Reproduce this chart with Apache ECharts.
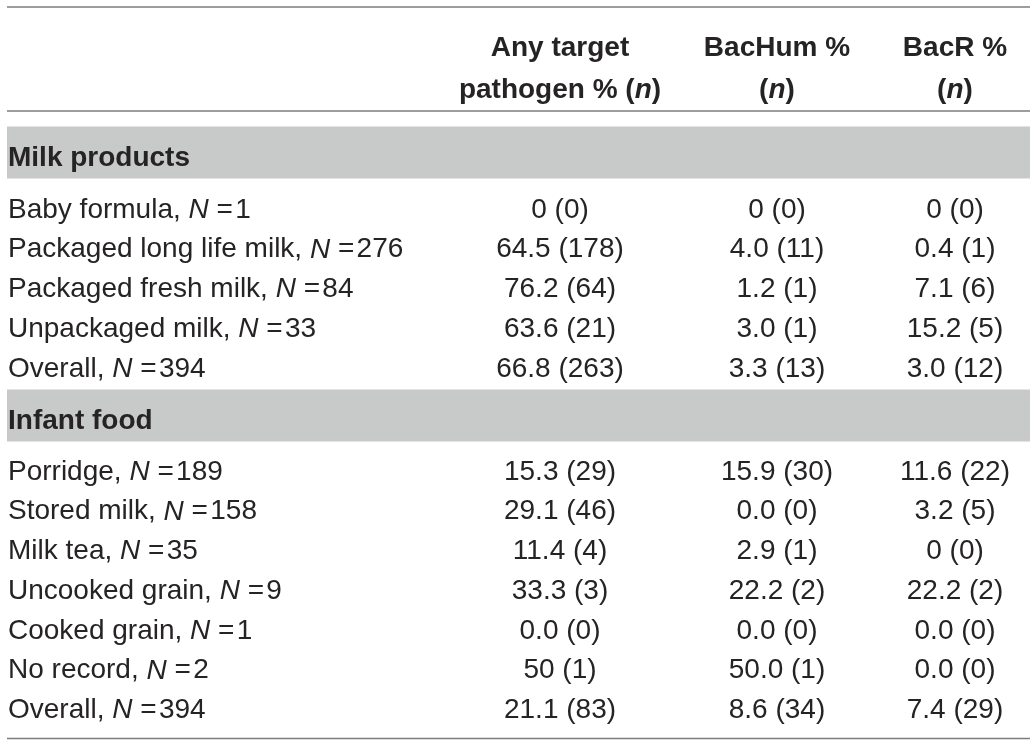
<!DOCTYPE html>
<html><head><meta charset="utf-8">
<script src="https://cdn.jsdelivr.net/npm/echarts@6/dist/echarts.min.js"></script>
<style>html,body{margin:0;padding:0;background:#fff}#main{width:1035px;height:746px}</style>
</head><body><div id="main"></div>
<script>
// ---- data ----
const columnHeaders = ['Any target\npathogen % ({bi|n})', 'BacHum %\n({bi|n})', 'BacR %\n({bi|n})'];
const sections = ['Milk products', 'Infant food'];

const milkLabels = ['Baby formula', 'Packaged long life milk', 'Packaged fresh milk', 'Unpackaged milk', 'Overall'];
const milkN = [1, 276, 84, 33, 394];
const milkAnyPct = ['0', '64.5', '76.2', '63.6', '66.8'];
const milkAnyN = [0, 178, 64, 21, 263];
const milkBacHumPct = ['0', '4.0', '1.2', '3.0', '3.3'];
const milkBacHumN = [0, 11, 1, 1, 13];
const milkBacRPct = ['0', '0.4', '7.1', '15.2', '3.0'];
const milkBacRN = [0, 1, 6, 5, 12];

const infantLabels = ['Porridge', 'Stored milk', 'Milk tea', 'Uncooked grain', 'Cooked grain', 'No record', 'Overall'];
const infantN = [189, 158, 35, 9, 1, 2, 394];
const infantAnyPct = ['15.3', '29.1', '11.4', '33.3', '0.0', '50', '21.1'];
const infantAnyN = [29, 46, 4, 3, 0, 1, 83];
const infantBacHumPct = ['15.9', '0.0', '2.9', '22.2', '0.0', '50.0', '8.6'];
const infantBacHumN = [30, 0, 1, 2, 0, 1, 34];
const infantBacRPct = ['11.6', '3.2', '0', '22.2', '0.0', '0.0', '7.4'];
const infantBacRN = [22, 5, 0, 2, 0, 0, 29];

// ---- layout / style ----
const W = 1035, H = 746;
const FONT = '"Liberation Sans", Arial, Helvetica, sans-serif';
const FS = 28;
const TEXT = '#262324';
const RULE = '#7d7d7d';
const BAND = '#c8c9c9';
const X0 = 7, X1 = 1030, LABEL_X = 8;
const COL_X = [560, 777, 955];
const TOP_LINE = 7, HEAD_LINE = 111, BOTTOM_LINE = 738.5;
const HEAD_Y = 69, HEAD_LH = 42;
const BANDS = [[126.5, 178.5], [389.5, 441.5]];
const BAND_TEXT_DY = 6;
const FIRST_ROW = [210, 472];
const ROW_STEP = 39.75;

const sectionRows = [
  {labels: milkLabels, N: milkN, cols: [[milkAnyPct, milkAnyN], [milkBacHumPct, milkBacHumN], [milkBacRPct, milkBacRN]]},
  {labels: infantLabels, N: infantN, cols: [[infantAnyPct, infantAnyN], [infantBacHumPct, infantBacHumN], [infantBacRPct, infantBacRN]]}
];

// build text items
const texts = [];
columnHeaders.forEach((h, c) => texts.push({x: COL_X[c], y: HEAD_Y, text: h, align: 'center', bold: true, lh: HEAD_LH}));
sections.forEach((s, si) => {
  texts.push({x: LABEL_X, y: (BANDS[si][0] + BANDS[si][1]) / 2 + BAND_TEXT_DY, text: s, align: 'left', bold: true});
  const sec = sectionRows[si];
  sec.labels.forEach((lab, r) => {
    const y = FIRST_ROW[si] + r * ROW_STEP;
    texts.push({x: LABEL_X, y, text: lab + ', {i|N} =\u200a' + sec.N[r], align: 'left'});
    sec.cols.forEach((col, c) => {
      texts.push({x: COL_X[c], y, text: col[0][r] + ' (' + col[1][r] + ')', align: 'center'});
    });
  });
});

const rules = [TOP_LINE, HEAD_LINE, BOTTOM_LINE].map(y => [X0, y, X1, y]);
const bands = BANDS.map(b => [X0, b[0], X1, b[1]]);

const richStyles = {
  i: {fontStyle: 'italic', fontSize: FS, fontFamily: FONT, fill: TEXT},
  bi: {fontStyle: 'italic', fontWeight: 'bold', fontSize: FS, fontFamily: FONT, fill: TEXT}
};

const chart = echarts.init(document.getElementById('main'), null, {renderer: 'canvas', width: W, height: H});
chart.setOption({
  animation: false,
  backgroundColor: '#fff',
  grid: {left: 0, right: 0, top: 0, bottom: 0},
  xAxis: {type: 'value', min: 0, max: W, show: false},
  yAxis: {type: 'value', min: 0, max: H, inverse: true, show: false},
  series: [
    {
      type: 'custom', name: 'bands', data: bands,
      renderItem(params, api) {
        const a = api.coord([api.value(0), api.value(1)]);
        const b = api.coord([api.value(2), api.value(3)]);
        return {type: 'rect', shape: {x: a[0], y: a[1], width: b[0] - a[0], height: b[1] - a[1]}, style: {fill: BAND}};
      }
    },
    {
      type: 'custom', name: 'rules', data: rules,
      renderItem(params, api) {
        const a = api.coord([api.value(0), api.value(1)]);
        const b = api.coord([api.value(2), api.value(3)]);
        return {type: 'line', shape: {x1: a[0], y1: a[1], x2: b[0], y2: b[1]}, style: {stroke: RULE, lineWidth: 1.5}};
      }
    },
    {
      type: 'custom', name: 'cells', data: texts.map(t => [t.x, t.y]),
      renderItem(params, api) {
        const p = api.coord([api.value(0), api.value(1)]);
        const t = texts[params.dataIndex];
        const rich = {
          i: Object.assign({}, richStyles.i, {fontWeight: t.bold ? 'bold' : 'normal', lineHeight: t.lh || FS}),
          bi: Object.assign({}, richStyles.bi, {lineHeight: t.lh || FS})
        };
        return {
          type: 'text', x: p[0], y: p[1],
          style: {
            text: t.text, fill: TEXT, fontSize: FS, fontFamily: FONT,
            fontWeight: t.bold ? 'bold' : 'normal',
            align: t.align, verticalAlign: 'middle',
            lineHeight: t.lh || FS, rich
          }
        };
      }
    }
  ]
});
</script></body></html>
